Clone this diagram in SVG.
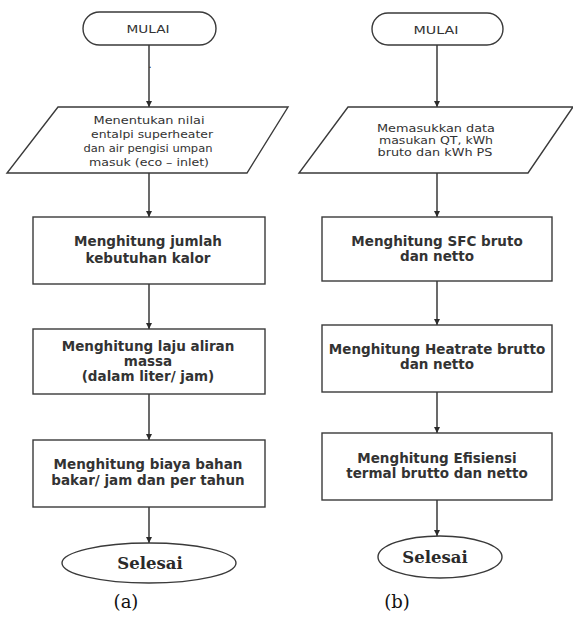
<svg xmlns="http://www.w3.org/2000/svg" width="573" height="617" viewBox="0 0 573 617">
<defs>
<marker id="ah" markerWidth="8" markerHeight="8" refX="6" refY="3" orient="auto" markerUnits="userSpaceOnUse">
<path d="M0,0 L6,3 L0,6 Z" fill="#2b2b2b"/>
</marker>
<style>
.sh{fill:#fff;stroke:#3a3a3a;stroke-width:1.4}
.cn{stroke:#2b2b2b;stroke-width:1.4;fill:none;marker-end:url(#ah)}
.sm{font-family:"DejaVu Sans",sans-serif;font-size:11px;fill:#333;text-anchor:middle}
.bx{font-family:"DejaVu Sans",sans-serif;font-size:13.5px;font-weight:bold;fill:#333;text-anchor:middle}
.se{font-family:"DejaVu Serif",serif;font-size:16.5px;font-weight:bold;fill:#2a2a2a;text-anchor:middle}
.cap{font-family:"DejaVu Serif",serif;font-size:18px;fill:#111;text-anchor:middle}
</style>
</defs>
<rect width="573" height="617" fill="#fff"/>
<g id="connectors">
<line class="cn" x1="149" y1="45" x2="149" y2="107"/>
<line class="cn" x1="149" y1="173" x2="149" y2="217"/>
<line class="cn" x1="149" y1="284" x2="149" y2="329"/>
<line class="cn" x1="149" y1="394" x2="149" y2="440"/>
<line class="cn" x1="149" y1="507" x2="149" y2="543"/>
<line class="cn" x1="437" y1="45" x2="437" y2="107"/>
<line class="cn" x1="437" y1="173" x2="437" y2="217"/>
<line class="cn" x1="437" y1="281" x2="437" y2="325"/>
<line class="cn" x1="437" y1="392" x2="437" y2="433"/>
<line class="cn" x1="437" y1="500" x2="437" y2="536"/>
</g>
<text class="sm" x="150" y="68" font-size="9">.</text>
<g id="a-start">
<rect class="sh" x="83" y="12" width="133" height="33" rx="16.5"/>
<text class="sm" x="148" y="33" textLength="43" lengthAdjust="spacingAndGlyphs">MULAI</text>
</g>
<g id="a-input">
<polygon class="sh" points="58,107 288,107 247,173 7,173"/>
<text class="sm" x="149" y="124" textLength="111" lengthAdjust="spacingAndGlyphs">Menentukan nilai</text>
<text class="sm" x="152" y="138" textLength="122" lengthAdjust="spacingAndGlyphs">entalpi superheater</text>
<text class="sm" x="148" y="152" textLength="129" lengthAdjust="spacingAndGlyphs">dan air pengisi umpan</text>
<text class="sm" x="149" y="166" textLength="120" lengthAdjust="spacingAndGlyphs">masuk (eco – inlet)</text>
</g>
<g id="a-kalor">
<rect class="sh" x="33" y="217" width="232" height="67"/>
<text class="bx" x="148" y="246">Menghitung jumlah</text>
<text class="bx" x="148" y="263">kebutuhan kalor</text>
</g>
<g id="a-laju">
<rect class="sh" x="33" y="329" width="232" height="65"/>
<text class="bx" x="148" y="351">Menghitung laju aliran</text>
<text class="bx" x="148" y="366">massa</text>
<text class="bx" x="148" y="381">(dalam liter/ jam)</text>
</g>
<g id="a-biaya">
<rect class="sh" x="33" y="440" width="232" height="67"/>
<text class="bx" x="148" y="469">Menghitung biaya bahan</text>
<text class="bx" x="148" y="485">bakar/ jam dan per tahun</text>
</g>
<g id="a-end">
<ellipse class="sh" cx="149" cy="563" rx="87" ry="20"/>
<text class="se" x="150" y="569">Selesai</text>
</g>
<text class="cap" x="126" y="608">(a)</text>
<g id="b-start">
<rect class="sh" x="372" y="13" width="131" height="32" rx="16"/>
<text class="sm" x="436" y="34" textLength="45" lengthAdjust="spacingAndGlyphs">MULAI</text>
</g>
<g id="b-input">
<polygon class="sh" points="348,107 573,107 528,173 299,173"/>
<text class="sm" x="436" y="132" textLength="118" lengthAdjust="spacingAndGlyphs">Memasukkan data</text>
<text class="sm" x="436" y="144" textLength="114" lengthAdjust="spacingAndGlyphs">masukan QT, kWh</text>
<text class="sm" x="435" y="156" textLength="115" lengthAdjust="spacingAndGlyphs">bruto dan kWh PS</text>
</g>
<g id="b-sfc">
<rect class="sh" x="322" y="217" width="230" height="64"/>
<text class="bx" x="437" y="246">Menghitung SFC bruto</text>
<text class="bx" x="437" y="261">dan netto</text>
</g>
<g id="b-heat">
<rect class="sh" x="322" y="325" width="230" height="67"/>
<text class="bx" x="437" y="354">Menghitung Heatrate brutto</text>
<text class="bx" x="437" y="369">dan netto</text>
</g>
<g id="b-eff">
<rect class="sh" x="322" y="433" width="230" height="67"/>
<text class="bx" x="437" y="463">Menghitung Efisiensi</text>
<text class="bx" x="437" y="478">termal brutto dan netto</text>
</g>
<g id="b-end">
<ellipse class="sh" cx="440" cy="557" rx="62" ry="21"/>
<text class="se" x="435" y="563">Selesai</text>
</g>
<text class="cap" x="397" y="608">(b)</text>
</svg>
